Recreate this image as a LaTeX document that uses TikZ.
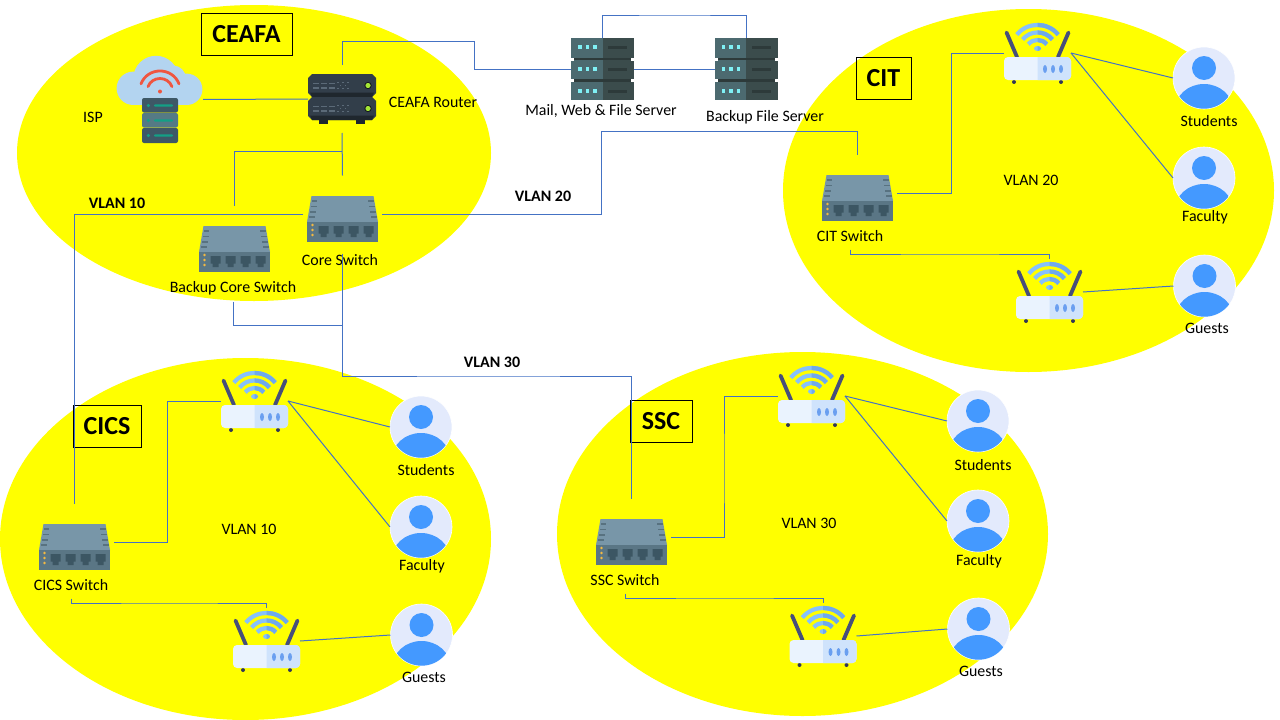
\documentclass[tikz,border=0pt]{standalone}
\usepackage{fontspec}
\setmainfont{Carlito}
\definecolor{linkblue}{HTML}{4472C4}
\definecolor{zoneyellow}{HTML}{FFFF00}
\definecolor{swtop}{HTML}{7896A8}
\definecolor{swfront}{HTML}{5A7685}
\definecolor{swvent}{HTML}{587280}
\definecolor{swport}{HTML}{3C5663}
\definecolor{swled}{HTML}{F4B942}
\definecolor{apleft}{HTML}{EAF3FE}
\definecolor{apright}{HTML}{CFE3FC}
\definecolor{apwave}{HTML}{86C1FB}
\definecolor{apwavedark}{HTML}{6FA9EC}
\definecolor{apdot}{HTML}{6A9FF0}
\definecolor{apant}{HTML}{474F7A}
\definecolor{userbg}{HTML}{E3EAFC}
\definecolor{userfg}{HTML}{4499FF}
\definecolor{srvleft}{HTML}{4C6A70}
\definecolor{srvright}{HTML}{3B4C4C}
\definecolor{srvdark}{HTML}{2D3A3A}
\definecolor{srvdot}{HTML}{7FF0F5}
\definecolor{rtrbody}{HTML}{323E4A}
\definecolor{rtrdark}{HTML}{1F272E}
\definecolor{rtrbar}{HTML}{5B6A78}
\definecolor{rtrled}{HTML}{A3E635}
\definecolor{cloudblue}{HTML}{B3D4F0}
\definecolor{ispred}{HTML}{EF5540}
\definecolor{ispbox}{HTML}{3E5866}
\definecolor{ispmid}{HTML}{557A85}
\definecolor{ispgreen}{HTML}{13A085}
\newcommand{\swportshape}[1]{\fill[swport] (#1-5,7) -- (#1+5,7) -- (#1+5,14.5) -- (#1+3,14.5) -- (#1+3,18) -- (#1-3,18) -- (#1-3,14.5) -- (#1-5,14.5) -- cycle;}
\newcommand{\swvents}[1]{
	\fill[swvent] (#1*31,-19) rectangle (#1*25.5,-17.5);
	\fill[swvent] (#1*32,-13.5) rectangle (#1*26,-12);
	\fill[swvent] (#1*33,-8) rectangle (#1*27,-6.5);
	\fill[swvent] (#1*34,-3) rectangle (#1*28,-1.5);
}
\newcommand{\apwaves}[1]{
	\draw[#1,line width=4.2pt] (-20.7,-18.4) .. controls (-9.9,-31.3) and (9.9,-31.3) .. (20.7,-18.4);
	\draw[#1,line width=4.2pt] (-14.9,-13.5) .. controls (-7.1,-22.9) and (7.1,-22.9) .. (14.9,-13.5);
	\draw[#1,line width=4.2pt] (-9.2,-8.7) .. controls (-4.4,-14.5) and (4.4,-14.5) .. (9.2,-8.7);
	\fill[#1] (0,-4.5) ellipse (3.5 and 2.5);
}
\newcommand{\rackunit}[1]{
	\begin{scope}[shift={(0,#1)}]
		\fill[rtrbody] (-30,-11.5) -- (30,-11.5) -- (34,-7.5) -- (34,7.5) -- (30,11.5) -- (-30,11.5) -- (-34,7.5) -- (-34,-7.5) -- cycle;
		\fill[rtrdark] (-32,7) -- (32,7) -- (30,11.5) -- (-30,11.5) -- cycle;
		\fill[rtrbar] (-29.5,-3) rectangle (-23,-1.3);
		\fill[rtrbar] (-21.5,-3) rectangle (-15,-1.3);
		\fill[rtrbar] (-13.5,-3) rectangle (-7.5,-1.3);
		\fill[rtrbar] (-29.5,1.5) rectangle (-23,3.2);
		\fill[rtrbar] (-21.5,1.5) rectangle (-15,3.2);
		\fill[rtrbar] (-13.5,1.5) rectangle (-7.5,3.2);
		\fill[rtrbar] (-5,-4) rectangle (-3.5,-2.5);
		\fill[rtrbar] (0,-4) rectangle (1.5,-2.5);
		\fill[rtrbar] (5,-4) rectangle (6.5,-2.5);
		\fill[rtrbar] (-2.5,-1) rectangle (-1,.5);
		\fill[rtrbar] (2.5,-1) rectangle (4,.5);
		\fill[rtrbar] (-5,2) rectangle (-3.5,3.5);
		\fill[rtrbar] (0,2) rectangle (1.5,3.5);
		\fill[rtrbar] (5,2) rectangle (6.5,3.5);
		\fill[rtrdark!60!black] (26,0) circle [radius=3.6];
		\fill[rtrled] (26,0) circle [radius=2.6];
	\end{scope}
}
\tikzset{
	zone/.style={fill=zoneyellow},
	link/.style={draw=linkblue,line width=1pt},
	lbl/.style={font=\fontsize{15.9}{18}\selectfont,inner sep=0pt,minimum height=27pt,yshift=-1pt},
	vlanlbl/.style={font=\fontsize{16}{18}\selectfont\bfseries,inner sep=0pt},
	titlebox/.style={draw=black,line width=1pt,font=\fontsize{26}{28}\selectfont\bfseries,inner sep=0pt,minimum height=42pt},
	hitbox/.style={inner sep=0pt,outer sep=0pt,minimum width=#1},
	switchicon/.pic={
		\node[hitbox=79pt,minimum height=78pt] (-box) at (0,-4.5){};
		\fill[swtop] (-31,-23) -- (31,-23) -- (35.5,3) -- (-35.5,3) -- cycle;
		\fill[swfront] (-35.5,3) rectangle (35.5,23);
		\swvents{1}
		\swvents{-1}
		\swportshape{-19}
		\swportshape{-4}
		\swportshape{11}
		\swportshape{26}
		\fill[swled] (-30,6) circle [radius=1.4];
		\fill[swled] (-30,11) circle [radius=1.4];
		\fill[swled] (-30,16) circle [radius=1.4];
	},
	apicon/.pic={
		\node[hitbox=67pt,minimum height=66pt] (-box) at (0,0){};
		\draw[apant,line width=3.8pt,line cap=round] (-31,-20.5) -- (-20.5,4);
		\draw[apant,line width=3.8pt,line cap=round] (31,-20.5) -- (20.5,4);
		\apwaves{apwave}
		\begin{scope}
			\clip (0,-40) rectangle (40,0);
			\apwaves{apwavedark}
		\end{scope}
		\fill[apant!70!black] (-23.5,29) circle [radius=2];
		\fill[apant!70!black] (23.5,29) circle [radius=2];
		\fill[apleft,rounded corners=4pt] (-33.5,4) rectangle (33.5,27);
		\begin{scope}
			\clip (0,0) rectangle (40,30);
			\fill[apright,rounded corners=4pt] (-33.5,4) rectangle (33.5,27);
		\end{scope}
		\fill[apdot] (7.5,16) ellipse (2 and 4);
		\fill[apdot] (15.5,16) ellipse (2 and 4);
		\fill[apdot] (23.5,16) ellipse (2 and 4);
	},
	usericon/.pic={
		\node[circle,inner sep=0pt,outer sep=0pt,minimum size=62pt,fill=userbg,draw=white,line width=.6pt] (-box) at (0,0){};
		\fill[userfg] (0,-10) circle [radius=12];
		\begin{scope}
			\clip (0,0) circle [radius=30.7];
			\fill[userfg] (0,32) ellipse (29 and 26);
		\end{scope}
	},
	servericon/.pic={
		\node[hitbox=63pt,minimum height=62pt] (-box) at (0,0){};
		\fill[srvleft] (-31.5,-31) rectangle (0,31);
		\fill[srvright] (0,-31) rectangle (31.5,31);
		\fill[srvdark] (-31.5,-11.5) rectangle (31.5,-9);
		\fill[srvdark] (-31.5,10) rectangle (31.5,12.5);
		\fill[white] (-31.5,-11.5) rectangle (-28.5,-8.5);
		\fill[white] (28.5,-11.5) rectangle (31.5,-8.5);
		\fill[white] (-31.5,10) rectangle (-28.5,13);
		\fill[white] (28.5,10) rectangle (31.5,13);
		\fill[srvdot] (-24.3,-23.8) rectangle (-20.7,-20.2);
		\fill[srvdot] (-16.8,-23.8) rectangle (-13.2,-20.2);
		\fill[srvdot] (-9.3,-23.8) rectangle (-5.7,-20.2);
		\fill[srvdot] (-24.3,-1.8) rectangle (-20.7,1.8);
		\fill[srvdot] (-16.8,-1.8) rectangle (-13.2,1.8);
		\fill[srvdot] (-9.3,-1.8) rectangle (-5.7,1.8);
		\fill[srvdot] (-24.3,20.2) rectangle (-20.7,23.8);
		\fill[srvdot] (-16.8,20.2) rectangle (-13.2,23.8);
		\fill[srvdot] (-9.3,20.2) rectangle (-5.7,23.8);
		\fill[srvdark] (5.5,-23.5) rectangle (24.5,-20.5);
		\fill[srvdark] (5.5,-1.5) rectangle (24.5,1.5);
		\fill[srvdark] (5.5,20.5) rectangle (24.5,23.5);
	},
	rackicon/.pic={
		\node[hitbox=68pt,minimum height=68pt] (-box) at (0,0){};
		\fill[rtrdark] (-23.3,20) rectangle (-14,25);
		\fill[rtrdark] (14,20) rectangle (23.3,25);
		\rackunit{-13.5}
		\rackunit{9.5}
	},
	ispicon/.pic={
		\node[hitbox=86pt,minimum height=87pt] (-box) at (0,0){};
		\fill[cloudblue] (-4,-21) circle [radius=22.7];
		\fill[cloudblue] (-26.7,-11.2) circle [radius=16.7];
		\fill[cloudblue] (26.7,-10.2) circle [radius=15.7];
		\fill[cloudblue] (13,-21) circle [radius=13];
		\fill[cloudblue] (-26,-21) rectangle (27,5.5);
		\draw[ispred,line width=2.8pt,line cap=round] (-19,-15.7) .. controls (-12.1,-32.8) and (12.1,-32.8) .. (19,-15.7);
		\draw[ispred,line width=2.8pt,line cap=round] (-12,-12.9) .. controls (-7.7,-23.7) and (7.7,-23.7) .. (12,-12.9);
		\fill[ispred] (0,-8) circle [radius=2];
		\fill[ispbox,rounded corners=2pt] (-18,-1.5) rectangle (18,13);
		\fill[ispmid,rounded corners=2pt] (-18,13.5) rectangle (18,28);
		\fill[ispbox,rounded corners=2pt] (-18,28.5) rectangle (18,43.5);
		\fill[ispgreen] (-11.7,6) circle [radius=1.7];
		\fill[ispgreen] (-11.7,21) circle [radius=1.7];
		\fill[ispgreen] (-11.7,36) circle [radius=1.7];
		\fill[ispgreen,rounded corners=1pt] (-6,4.8) rectangle (13,7.2);
		\fill[ispgreen,rounded corners=1pt] (-6,19.8) rectangle (13,22.2);
		\fill[ispgreen,rounded corners=1pt] (-6,34.8) rectangle (13,37.2);
	}
}
\begin{document}
\begin{tikzpicture}[x=1pt,y=-1pt]
	\useasboundingbox (0,0) rectangle (1280,720);
	\fill[zone] (254,153) ellipse (237 and 148);
	\fill[zone] (1028.5,190.5) ellipse (245.5 and 181.5);
	\fill[zone] (245.5,539) ellipse (245.5 and 181);
	\fill[zone] (802.5,534) ellipse (245.5 and 182);

	\node[titlebox,minimum width=91pt] (ceafa) at (246.5,34){CEAFA};
	\node[titlebox,minimum width=55pt] (citname) at (883.5,78){CIT};
	\node[titlebox,minimum width=68pt] (cicsname) at (107,426){CICS};
	\node[titlebox,minimum width=62pt] (sscname) at (661,421){SSC};

	\pic (isp) at (160,99.5) {ispicon};
	\pic (rtr) at (342,99) {rackicon};
	\pic (mail) at (602.5,69) {servericon};
	\pic (bkfile) at (746,69) {servericon};
	\pic (core) at (342.5,219) {switchicon};
	\pic (bkcore) at (234.5,249) {switchicon};
	\pic (cit) at (857.5,198) {switchicon};
	\pic (cics) at (74.5,547) {switchicon};
	\pic (ssc) at (631.5,542) {switchicon};

	\pic (citap1) at (1037.5,53) {apicon};
	\pic (citap2) at (1049.5,292) {apicon};
	\pic (cicsap1) at (254.5,401) {apicon};
	\pic (cicsap2) at (266.5,641) {apicon};
	\pic (sscap1) at (811.5,396) {apicon};
	\pic (sscap2) at (823,636) {apicon};

	\pic (cit1) at (1204,78) {usericon};
	\pic (cit2) at (1204,178) {usericon};
	\pic (cit3) at (1204.5,286) {usericon};
	\pic (cics1) at (421,427) {usericon};
	\pic (cics2) at (421,527) {usericon};
	\pic (cics3) at (421.5,635) {usericon};
	\pic (ssc1) at (978,421) {usericon};
	\pic (ssc2) at (978,521) {usericon};
	\pic (ssc3) at (978.5,629) {usericon};

	\node[lbl] (ispl) at (93,116){ISP};
	\node[lbl] (rtrl) at (433,101){CEAFA Router};
	\node[lbl] (maill) at (601,110){Mail, Web \& File Server};
	\node[lbl] (bkfilel) at (765,116){Backup File Server};
	\node[lbl] (bkcorel) at (233,287){Backup Core Switch};
	\node[lbl] (corel) at (340,259){Core Switch};
	\node[lbl] (citl) at (850,235){CIT Switch};
	\node[lbl] (cicsl) at (71,584){CICS Switch};
	\node[lbl] (sscl) at (625,579){SSC Switch};
	\node[lbl] (citv) at (1031,179){VLAN 20};
	\node[lbl] (cicsv) at (249,528){VLAN 10};
	\node[lbl] (sscv) at (809,522){VLAN 30};
	\node[lbl] (cit1l) at (1209,120){Students};
	\node[lbl] (cit2l) at (1205,216){Faculty};
	\node[lbl] (cit3l) at (1207,327){Guests};
	\node[lbl] (cics1l) at (426,469){Students};
	\node[lbl] (cics2l) at (422,565){Faculty};
	\node[lbl] (cics3l) at (424,676){Guests};
	\node[lbl] (ssc1l) at (983,464){Students};
	\node[lbl] (ssc2l) at (979,560){Faculty};
	\node[lbl] (ssc3l) at (981,670){Guests};
	\node[vlanlbl] (v10) at (117,203){VLAN 10};
	\node[vlanlbl] (v20) at (543,196){VLAN 20};
	\node[vlanlbl] (v30) at (492,362){VLAN 30};

	\coordinate (rtrbend) at (474,41);
	\coordinate (srvtop) at (675,15);
	\coordinate (corejoin) at (342,151);
	\coordinate (bkjoin) at (342,325);
	\coordinate (corebase) at (342,273);
	\coordinate (v20bend) at (601,131);
	\coordinate (v30bend) at (490,376);
	\coordinate (citbend) at (951,123);
	\coordinate (cicsbend) at (167.5,470);
	\coordinate (sscbend) at (724,470);
	\coordinate (citlow) at (950,254);
	\coordinate (cicslow) at (170,603);
	\coordinate (ssclow) at (725,598);

	\draw [link] (isp-box.east) -- (rtr-box.west);
	\draw [link] (rtr-box.north) |- (rtrbend) |- (mail-box.west);
	\draw [link] (mail-box.east) -- (bkfile-box.west);
	\draw [link] (mail-box.north) |- (srvtop) -| (bkfile-box.north);
	\draw [link] (rtr-box.south) -- (core-box.north);
	\draw [link] (corejoin) -| (bkcore-box.north);
	\draw [link] (core-box.west) -| (cics-box.north);
	\draw [link] (core-box.east) -| (v20bend) -| (cit-box.north);
	\draw [link] (core-box.south) |- (v30bend) -| (ssc-box.north);
	\draw [link] (bkcorel.south) |- (bkjoin) -- (corebase);

	\draw [link] (cit-box.east) -| (citbend) |- (citap1-box.west);
	\draw [link] (citl.south) |- (citlow) -| (citap2-box.north);
	\draw [link] (citap1-box.east) -- (cit1-box.west);
	\draw [link] (citap1-box.east) -- (cit2-box.west);
	\draw [link] (citap2-box.east) -- (cit3-box.west);

	\draw [link] (cics-box.east) -| (cicsbend) |- (cicsap1-box.west);
	\draw [link] (cicsl.south) |- (cicslow) -| (cicsap2-box.north);
	\draw [link] (cicsap1-box.east) -- (cics1-box.west);
	\draw [link] (cicsap1-box.east) -- (cics2-box.west);
	\draw [link] (cicsap2-box.east) -- (cics3-box.west);

	\draw [link] (ssc-box.east) -| (sscbend) |- (sscap1-box.west);
	\draw [link] (sscl.south) |- (ssclow) -| (sscap2-box.north);
	\draw [link] (sscap1-box.east) -- (ssc1-box.west);
	\draw [link] (sscap1-box.east) -- (ssc2-box.west);
	\draw [link] (sscap2-box.east) -- (ssc3-box.west);
\end{tikzpicture}
\end{document}
